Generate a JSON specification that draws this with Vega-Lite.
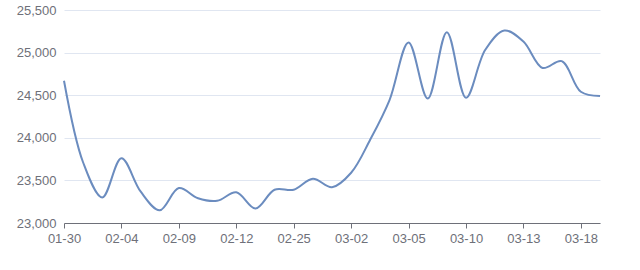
{
  "$schema": "https://vega.github.io/schema/vega-lite/v6.json",
  "autosize": "none",
  "width": 536,
  "height": 213,
  "padding": {"left": 64, "top": 10, "right": 40, "bottom": 47},
  "background": "#ffffff",
  "config": {"view": {"stroke": null}},
  "data": {"values": [
    {"d": "01-30", "v": 24670},
    {"d": "02-02", "v": 23710},
    {"d": "02-03", "v": 23300},
    {"d": "02-04", "v": 23760},
    {"d": "02-05", "v": 23370},
    {"d": "02-06", "v": 23150},
    {"d": "02-09", "v": 23410},
    {"d": "02-10", "v": 23290},
    {"d": "02-11", "v": 23260},
    {"d": "02-12", "v": 23360},
    {"d": "02-13", "v": 23170},
    {"d": "02-24", "v": 23390},
    {"d": "02-25", "v": 23390},
    {"d": "02-26", "v": 23520},
    {"d": "02-27", "v": 23420},
    {"d": "03-02", "v": 23590},
    {"d": "03-03", "v": 23980},
    {"d": "03-04", "v": 24440},
    {"d": "03-05", "v": 25120},
    {"d": "03-06", "v": 24460},
    {"d": "03-09", "v": 25240},
    {"d": "03-10", "v": 24470},
    {"d": "03-11", "v": 25030},
    {"d": "03-12", "v": 25260},
    {"d": "03-13", "v": 25130},
    {"d": "03-16", "v": 24820},
    {"d": "03-17", "v": 24900},
    {"d": "03-18", "v": 24540},
    {"d": "03-19", "v": 24490}
  ]},
  "mark": {"type": "line", "interpolate": "catmull-rom", "color": "#6b8cbf", "strokeWidth": 2},
  "encoding": {
    "x": {
      "field": "d", "type": "ordinal", "sort": null,
      "scale": {"type": "point", "padding": 0},
      "axis": {
        "title": null,
        "values": ["01-30", "02-04", "02-09", "02-12", "02-25", "03-02", "03-05", "03-10", "03-13", "03-18"],
        "labelAngle": 0,
        "labelFont": "Liberation Sans",
        "labelFontSize": 13,
        "labelColor": "#6e7079",
        "labelPadding": 4,
        "tickSize": 5,
        "tickColor": "#6e7079",
        "domainColor": "#6e7079",
        "grid": false
      }
    },
    "y": {
      "field": "v", "type": "quantitative",
      "scale": {"domain": [23000, 25500], "zero": false, "nice": false},
      "axis": {
        "title": null,
        "values": [23000, 23500, 24000, 24500, 25000, 25500],
        "format": ",.0f",
        "labelFont": "Liberation Sans",
        "labelFontSize": 13,
        "labelColor": "#6e7079",
        "labelPadding": 8,
        "ticks": false,
        "domain": false,
        "gridColor": "#e0e6f1",
        "gridWidth": 1
      }
    }
  }
}
